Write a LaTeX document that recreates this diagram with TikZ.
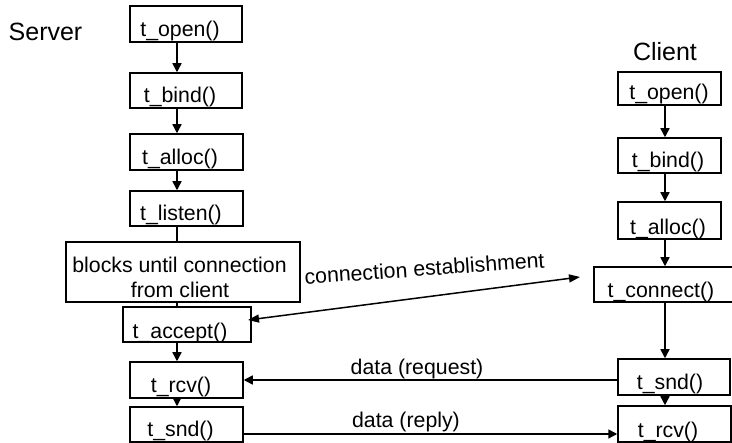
\documentclass[tikz,border=0pt]{standalone}
\usepackage{fontspec}
\setmainfont{Liberation Sans}
\usetikzlibrary{arrows.meta}
\newcommand\bxfont{\fontsize{21.3}{25}\selectfont}
\newcommand\ttlfont{\fontsize{25}{29}\selectfont}
\tikzset{
  fbox/.style={draw, line width=1.5pt, rectangle, inner sep=0pt},
  txt/.style={inner sep=0pt, font=\bxfont, anchor=base},
  ttl/.style={inner sep=0pt, font=\ttlfont, anchor=base},
  con/.style={line width=1.5pt},
  arr/.style={con, -{Triangle[length=9pt,width=9pt]}},
  darr/.style={con, {Triangle[length=11pt,width=8pt]}-{Triangle[length=11pt,width=8pt]}},
}
\begin{document}
\begin{tikzpicture}[x=1pt,y=-1pt]
\clip (0,0) rectangle (732,443);
% guide coordinates
\coordinate (sx) at (177,0);
\coordinate (cx) at (665,0);
\coordinate (rp) at (0,434);
\coordinate (ceA) at (248,320);
\coordinate (ceB) at (580,277);

% titles
\node[ttl] (server) at (45.5,41) {Server};
\node[ttl] (client) at (665,61) {Client};

% server boxes
\node[fbox, minimum width=112pt, minimum height=36pt] (sopen) at (186,24) {};
\node[fbox, minimum width=112pt, minimum height=35pt] (sbind) at (186,90.5) {};
\node[fbox, minimum width=113pt, minimum height=36pt] (salloc) at (186.5,152) {};
\node[fbox, minimum width=113pt, minimum height=35pt] (slisten) at (186.5,208.5) {};
\node[fbox, minimum width=234pt, minimum height=60pt] (sblock) at (183,272) {};
\node[fbox, minimum width=128pt, minimum height=35pt] (saccept) at (187,324.5) {};
\node[fbox, minimum width=113pt, minimum height=36pt] (srcv) at (186.5,380) {};
\node[fbox, minimum width=113pt, minimum height=35pt] (ssnd) at (186.5,424.5) {};

% server texts
\node[txt] (sopen_t) at (180,37) {t\_open()};
\node[txt] (sbind_t) at (180,103) {t\_bind()};
\node[txt] (salloc_t) at (180,165) {t\_alloc()};
\node[txt] (slisten_t) at (181,221) {t\_listen()};
\node[txt] (sblock_t1) at (179.5,273) {blocks until connection};
\node[txt] (sblock_t2) at (180,298) {from client};
\node[txt] (saccept_t) at (180,339) {t\_accept()};
\node[txt] (srcv_t) at (181,393) {t\_rcv()};
\node[txt] (ssnd_t) at (180.5,437) {t\_snd()};

% client boxes
\node[fbox, minimum width=103pt, minimum height=33pt] (copen) at (669.5,88.5) {};
\node[fbox, minimum width=103pt, minimum height=35pt] (cbind) at (669.5,155.5) {};
\node[fbox, minimum width=103pt, minimum height=37pt] (calloc) at (669.5,220.5) {};
\node[fbox, minimum width=151pt, minimum height=35pt] (cconn) at (669.5,284.5) {};
\node[fbox, minimum width=112pt, minimum height=36pt] (csnd) at (674,377) {};
\node[fbox, minimum width=113pt, minimum height=36pt] (crcv) at (674.5,424) {};

% client texts
\node[txt] (copen_t) at (669,100) {t\_open()};
\node[txt] (cbind_t) at (668,168) {t\_bind()};
\node[txt] (calloc_t) at (668,234.5) {t\_alloc()};
\node[txt] (cconn_t) at (661,298) {t\_connect()};
\node[txt] (csnd_t) at (670,390) {t\_snd()};
\node[txt] (crcv_t) at (668,438) {t\_rcv()};

% server flow
\draw[arr] (sopen.south -| sx) -- (sbind.north -| sx);
\draw[arr] (sbind.south -| sx) -- (salloc.north -| sx);
\draw[arr] (salloc.south -| sx) -- (slisten.north -| sx);
\draw[con] (slisten.south -| sx) -- (sblock.north -| sx);
\draw[con] (sblock.south -| sx) -- (saccept.north -| sx);
\draw[arr] (saccept.south -| sx) -- (srcv.north -| sx);
\draw[arr] (srcv.south -| sx) -- (ssnd.north -| sx);

% client flow
\draw[arr] (copen.south -| cx) -- (cbind.north -| cx);
\draw[arr] (cbind.south -| cx) -- (calloc.north -| cx);
\draw[arr] (calloc.south -| cx) -- (cconn.north -| cx);
\draw[arr] (cconn.south -| cx) -- (csnd.north -| cx);
\draw[arr] (csnd.south -| cx) -- (crcv.north -| cx);

% exchanges
\draw[darr] (ceA) -- (ceB);
\node[txt, rotate=4] (ce_t) at (425,276) {connection establishment};
\draw[arr] (csnd.west |- srcv.east) -- (srcv.east);
\node[txt] (req_t) at (417,375) {data (request)};
\draw[arr] (ssnd.east |- rp) -- (crcv.west |- rp);
\node[txt] (rep_t) at (406,428) {data (reply)};
\end{tikzpicture}
\end{document}
